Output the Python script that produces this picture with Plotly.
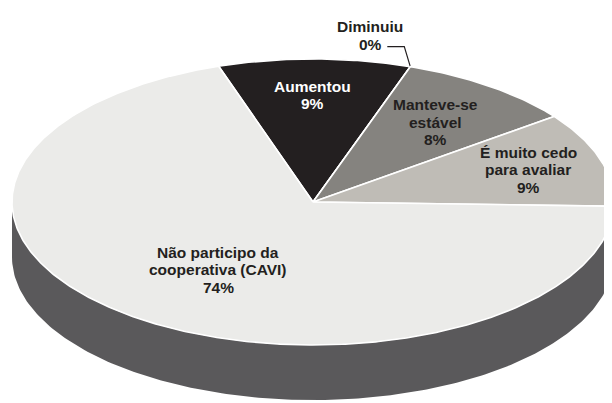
import numpy as np
import plotly.graph_objects as go

# ---- data ----
categories = ["Aumentou", "Diminuiu", "Manteve-se<br>estável", "É muito cedo<br>para avaliar",
              "Não participo da<br>cooperativa (CAVI)"]
values = [9, 0, 8, 9, 74]
colors = ["#231f20", "#6e6c6a", "#85837f", "#bfbcb6", "#ebebe9"]
text_colors = ["#ffffff", "#231f20", "#231f20", "#231f20", "#231f20"]

# ---- pseudo-3D geometry (pixel space) ----
W, H = 612, 403
OFF = 8                     # browser default body margin
cx, cy, rx, ry, depth = 313, 202, 301, 143, 55
start_deg = 98.5           # true start angle of first slice
warp_a, warp_psi = 0.2, np.radians(40)   # perspective-like angular distortion
label_r = [0.75, 0, 0.69, 0.75, 0.57]
label_dphi = [0, 0, 0, 0, np.radians(7)]
side_color = "#5a595b"
line_h = 17.5
font_size = 15.5


def warp(theta):
    return theta + warp_a * np.sin(theta - warp_psi)


def pt(phi, dy=0.0):
    return cx + rx * np.cos(phi), cy - ry * np.sin(phi) + dy


fig = go.Figure()
annotations = []


def add_label(lines, x, y, color):
    n = len(lines)
    for i, s in enumerate(lines):
        annotations.append(dict(x=x, y=y + (i - (n - 1) / 2) * line_h, xref="x", yref="y",
                                text=s, showarrow=False, font=dict(color=color)))


# side (front half of the cylinder)
ph = np.linspace(np.pi, 2 * np.pi, 200)
xs_top, ys_top = pt(ph)
xs_bot, ys_bot = pt(ph[::-1], depth)
fig.add_trace(go.Scatter(
    x=np.concatenate([xs_top, xs_bot]), y=np.concatenate([ys_top, ys_bot]),
    fill="toself", fillcolor=side_color, mode="lines", line=dict(width=0),
    hoverinfo="skip", showlegend=False))

total = sum(values)
theta = np.radians(start_deg)
for cat, v, col, tcol, lr, dphi in zip(categories, values, colors, text_colors, label_r, label_dphi):
    span = 2 * np.pi * v / total
    t0, t1 = theta, theta - span
    n = max(2, int(abs(span) / 0.01))
    tt = np.linspace(t0, t1, n)
    ax_, ay_ = pt(warp(tt))
    xs = np.concatenate([[cx], ax_, [cx]])
    ys = np.concatenate([[cy], ay_, [cy]])
    fig.add_trace(go.Scatter(
        x=xs, y=ys, fill="toself", fillcolor=col, mode="lines",
        line=dict(color="white", width=1.6), hoverinfo="skip", showlegend=False))
    pct = f"{round(100 * v / total)}%"
    lines = cat.split("<br>") + [pct]
    if v > 0:
        mid = warp((t0 + t1) / 2) + dphi
        lx = cx + lr * rx * np.cos(mid)
        ly = cy - lr * ry * np.sin(mid)
        add_label(lines, lx, ly, tcol)
    else:
        bx, by = pt(warp(t0))
        fig.add_trace(go.Scatter(
            x=[bx, bx - 6, bx - 23], y=[by, by - 20, by - 20], mode="lines",
            line=dict(color="#231f20", width=1.2), hoverinfo="skip", showlegend=False))
        add_label(lines, bx - 40, by - 31, tcol)
    theta = t1

fig.update_layout(
    width=W - OFF, height=H - OFF, margin=dict(l=0, r=0, t=0, b=0),
    paper_bgcolor="white", plot_bgcolor="white",
    font=dict(family="Liberation Sans, Arial, sans-serif", size=font_size, weight="bold",
              color="#231f20"),
    xaxis=dict(range=[OFF, W], visible=False, fixedrange=True),
    yaxis=dict(range=[H, OFF], visible=False, fixedrange=True),
    annotations=annotations,
)
fig.write_html("out.html")
